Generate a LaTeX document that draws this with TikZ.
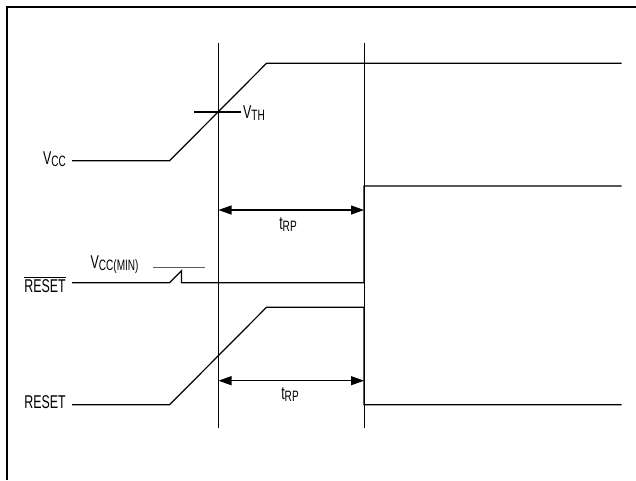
\documentclass[tikz,border=0pt]{standalone}
\usepackage{fontspec}
\setmainfont{Liberation Sans}[FakeStretch=0.67]
\usetikzlibrary{arrows.meta}
\newcommand\lsub[1]{\raisebox{-2.5pt}{\fontsize{15}{15}\selectfont #1}}
\begin{document}
\begin{tikzpicture}[x=1pt,y=-1pt,
  wave/.style={line width=1.2pt, line join=miter},
  gridline/.style={line width=0.8pt},
  lbl/.style={inner sep=0pt, font=\fontsize{18.5}{18.5}\selectfont},
  dim/.style={line width=1.2pt, {Triangle[length=13pt,width=9pt]}-{Triangle[length=13pt,width=9pt]}}]
\useasboundingbox (0,0) rectangle (636,480);
% frame
\draw[line width=2pt] (7,480) -- (7,7) -- (636,7);
% vertical reference lines
\coordinate (v1t) at (218.5,42.7);
\coordinate (v1b) at (218.5,428);
\coordinate (v2t) at (364,42.7);
\coordinate (v2b) at (364,428);
\draw[gridline] (v1t) -- (v1b);
\draw[gridline] (v2t) -- (v2b);
% labels
\node[lbl, anchor=base east] (vcc) at (66,164) {V\lsub{CC}};
\node[lbl, anchor=base west] (vth) at (243,118) {V\lsub{TH}};
\node[lbl, anchor=base east] (rstb) at (66,292) {$\overline{\hbox{RESET}}$};
\node[lbl, anchor=base west] (vccmin) at (90.5,268) {V\lsub{CC(MIN)}};
\node[lbl, anchor=base] (trp1) at (288,229) {t\lsub{RP}};
\node[lbl, anchor=base] (trp2) at (290,399) {t\lsub{RP}};
\node[lbl, anchor=base east] (rst) at (66,408) {RESET};
% VCC waveform
\coordinate (c0) at (72,160.7);
\coordinate (c1) at (169.6,160.7);
\coordinate (c2) at (266.5,63.3);
\coordinate (c3) at (621.5,63.3);
\draw[wave] (c0) -- (c1) -- (c2) -- (c3);
% VTH tick
\coordinate (t0) at (194,112);
\coordinate (t1) at (241,112);
\draw[wave] (t0) -- (t1);
% RESET-bar waveform
\coordinate (b0) at (72,282.7);
\coordinate (b1) at (169.6,282.7);
\coordinate (b2) at (181.5,270.7);
\coordinate (b3) at (181.5,282.7);
\coordinate (b4) at (364,282.7);
\coordinate (b5) at (364,186);
\coordinate (b6) at (621.5,186);
\draw[wave] (b0) -- (b1) -- (b2) -- (b3) -- (b4) -- (b5) -- (b6);
% VCC(MIN) level
\coordinate (m0) at (153,267.5);
\coordinate (m1) at (205,267.5);
\draw[line width=1pt, black!65] (m0) -- (m1);
% RESET waveform
\coordinate (r0) at (72,404.7);
\coordinate (r1) at (169.6,404.7);
\coordinate (r2) at (266.5,307.3);
\coordinate (r3) at (364,307.3);
\coordinate (r4) at (364,404.7);
\coordinate (r5) at (621.5,404.7);
\draw[wave] (r0) -- (r1) -- (r2) -- (r3) -- (r4) -- (r5);
% tRP dimension arrows
\coordinate (a1l) at (218.5,210);
\coordinate (a1r) at (364,210);
\coordinate (a2l) at (218.5,380.7);
\coordinate (a2r) at (364,380.7);
\draw[dim] (a1l) -- (a1r);
\draw[dim] (a2l) -- (a2r);
\end{tikzpicture}
\end{document}
